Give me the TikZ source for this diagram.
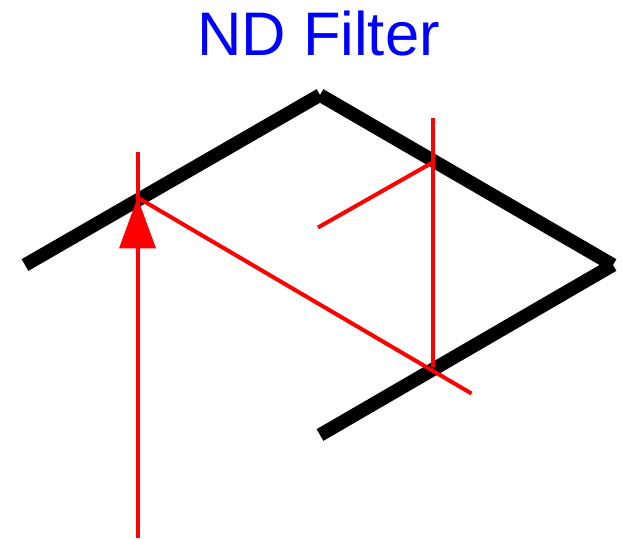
\documentclass[tikz,border=0pt]{standalone}
\usepackage{fontspec}
\setmainfont{Liberation Sans}
\usepackage{tikz}
\usetikzlibrary{arrows.meta,calc,positioning}

\begin{document}
\begin{tikzpicture}[
  x=0.02cm, y=-0.02cm,
  mirror/.style={draw=black, line width=0.27cm},
  ray/.style={draw=red, line width=0.08cm},
  arr/.style={-{Triangle[length=1.02cm,width=0.72cm]}},
  title/.style={text=blue, font=\fontsize{35pt}{40pt}\selectfont, inner sep=0pt, anchor=base},
]
\useasboundingbox (0,0) rectangle (623,539);

% ---- points on the mirrors ----
\coordinate (start)  at (137.5,537.5);
\coordinate (hitone) at (137.5,197.5);
\coordinate (topone) at (137.5,152);
\coordinate (hittwo) at (432.5,367);
\coordinate (endtwo) at (471.5,393.5);
\coordinate (hitthree) at (432.5,162.5);
\coordinate (topthree) at (432.5,118);
\coordinate (out) at (318,227.5);

% ---- mirrors ----
\coordinate (a) at (25,265);
\coordinate (b) at (320,95);
\coordinate (c) at (613,265);
\coordinate (d) at (320,435);
\draw[mirror] (a) -- (b);
\draw[mirror] (b) -- (c);
\draw[mirror] (c) -- (d);

% ---- rays ----
\draw[ray] (start) -- (topone);
\draw[ray] (hitone) -- (endtwo);
\draw[ray] (hittwo) -- (topthree);
\draw[ray] (hitthree) -- (out);
\draw[ray, arr] (start) -- (hitone);

% ---- title ----
\node[title] (label) at (318.5,55) {ND Filter};

\end{tikzpicture}
\end{document}
